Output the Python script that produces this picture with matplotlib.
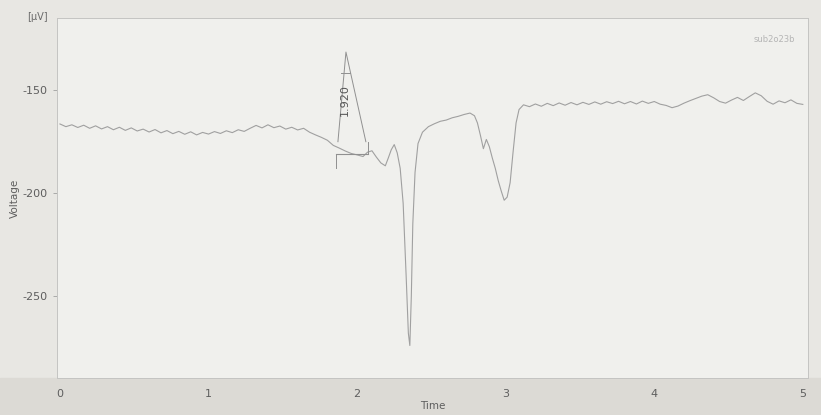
import matplotlib.pyplot as plt
from matplotlib.patches import Rectangle

plt.rcParams['axes.unicode_minus'] = False

# sampled trace: time (s) and voltage (uV)
time = [0.00, 0.04, 0.08, 0.12, 0.16, 0.20, 0.24, 0.28, 0.32, 0.36,
        0.40, 0.44, 0.48, 0.52, 0.56, 0.60, 0.64, 0.68, 0.72, 0.76,
        0.80, 0.84, 0.88, 0.92, 0.96, 1.00, 1.04, 1.08, 1.12, 1.16,
        1.20, 1.24, 1.28, 1.32, 1.36, 1.40, 1.44, 1.48, 1.52, 1.56,
        1.60, 1.64, 1.68, 1.72, 1.76, 1.80, 1.84, 1.88, 1.92, 1.96,
        2.00, 2.04, 2.07, 2.10, 2.13, 2.16, 2.19, 2.21, 2.23, 2.25,
        2.27, 2.29, 2.31, 2.33, 2.345, 2.355, 2.365, 2.375, 2.39, 2.41,
        2.44, 2.48, 2.52, 2.56, 2.60, 2.64, 2.68, 2.72, 2.76, 2.79,
        2.81, 2.83, 2.85, 2.87, 2.89, 2.91, 2.93, 2.95, 2.97, 2.99,
        3.01, 3.03, 3.05, 3.07, 3.09, 3.12, 3.16, 3.20, 3.24, 3.28,
        3.32, 3.36, 3.40, 3.44, 3.48, 3.52, 3.56, 3.60, 3.64, 3.68,
        3.72, 3.76, 3.80, 3.84, 3.88, 3.92, 3.96, 4.00, 4.04, 4.08,
        4.12, 4.16, 4.20, 4.24, 4.28, 4.32, 4.36, 4.40, 4.44, 4.48,
        4.52, 4.56, 4.60, 4.64, 4.68, 4.72, 4.76, 4.80, 4.84, 4.88,
        4.92, 4.96, 5.00]
voltage = [-166.5, -167.8, -166.9, -168.2, -167.1, -168.6, -167.4, -168.9, -167.8, -169.3,
           -168.1, -169.6, -168.4, -169.9, -169.0, -170.4, -169.2, -170.8, -169.7, -171.2,
           -170.1, -171.5, -170.3, -171.8, -170.6, -171.4, -170.2, -171.1, -169.8, -170.7,
           -169.3, -170.1, -168.6, -167.2, -168.4, -166.9, -168.3, -167.5, -169.0, -168.1,
           -169.4, -168.6, -170.5, -171.8, -173.0, -174.4, -176.9, -178.2, -179.6, -180.8,
           -181.5, -182.3, -180.2, -179.5, -182.6, -185.4, -186.8, -183.0, -179.0, -176.5,
           -180.5, -188.0, -205.0, -240.0, -268.0, -274.0, -250.0, -215.0, -190.0, -176.0,
           -170.5, -167.8, -166.4, -165.2, -164.6, -163.5, -162.8, -161.9, -161.2, -162.5,
           -166.0, -172.0, -178.5, -174.0, -177.5, -183.0, -188.0, -194.0, -199.0, -203.5,
           -202.0, -195.0, -180.0, -166.0, -159.5, -157.2, -158.1, -156.8, -157.9, -156.5,
           -157.6, -156.3, -157.4, -156.1, -157.2, -156.0, -157.0, -155.8, -156.9, -155.7,
           -156.6, -155.5, -156.7, -155.6, -156.8, -155.4, -156.5, -155.6, -156.9, -157.5,
           -158.6, -157.8, -156.4, -155.2, -154.1, -153.0, -152.3, -153.8, -155.6, -156.4,
           -154.9, -153.6, -155.1, -153.2, -151.4, -152.8, -155.5, -156.9, -155.3, -156.2,
           -154.8, -156.5, -157.0]

# measurement marker drawn over the trace
marker_apex = (1.925, -131.6)
marker_base = [1.857, 2.073]
marker_base_v = -181.1
marker_label = "1.920"

xticks = [0, 1, 2, 3, 4, 5]
yticks = [-150, -200, -250]

fig = plt.figure(figsize=(8.21, 4.15), dpi=100, facecolor="#e8e7e3")
ax = fig.add_axes([0.0694, 0.089, 0.9146, 0.868])
ax.set_facecolor("#f0f0ed")

# darker strip at the bottom of the sheet, kept behind the axes
fig.patches.append(Rectangle((0, 0), 1, 0.089, transform=fig.transFigure,
                             color="#dcdad5", zorder=-5))

ax.plot(time, voltage, color="#a0a0a0", lw=0.8)

# triangle marker
ink = "#909090"
ax.plot([marker_base[0] + 0.014, marker_apex[0], marker_base[1] - 0.014],
        [marker_base_v + 6, marker_apex[1], marker_base_v + 6], color=ink, lw=0.7)
ax.plot(marker_base, [marker_base_v, marker_base_v], color=ink, lw=0.8)
ax.plot([marker_base[0], marker_base[0]], [marker_base_v, marker_base_v - 7], color=ink, lw=0.7)
ax.plot([marker_base[1], marker_base[1]], [marker_base_v + 6, marker_base_v], color=ink, lw=0.7)
ax.plot([marker_apex[0] - 0.03, marker_apex[0] + 0.03], [-141.7, -141.7], color=ink, lw=0.7)
ax.text(marker_apex[0] - 0.005, -155.0, marker_label, rotation=90, ha="center", va="center",
        fontsize=8, color="#555555")

ax.text(4.81, -125.7, "sub2o23b", fontsize=6, color="#b5b5b5", ha="center", va="center")

ax.set_xlim(-0.02, 5.034)
ax.set_ylim(-289.8, -115.0)
ax.set_xticks(xticks)
ax.set_yticks(yticks)
ax.tick_params(axis="both", colors="#a0a0a0", labelcolor="#5e5e5e", labelsize=8,
               length=3, width=0.6)
ax.tick_params(axis="x", length=0, pad=8)
ax.set_xlabel("Time", fontsize=7.5, color="#5e5e5e", labelpad=1)
ax.set_ylabel("Voltage", fontsize=7.5, color="#5e5e5e", labelpad=2)
fig.text(0.045, 0.958, "[\u00b5V]", fontsize=7, color="#6a6a6a", ha="center", va="center")

for side in ["top", "right", "left", "bottom"]:
    ax.spines[side].set_color("#c4c4c2")
    ax.spines[side].set_linewidth(0.7)

fig.savefig("out.png", dpi=100, facecolor=fig.get_facecolor())
